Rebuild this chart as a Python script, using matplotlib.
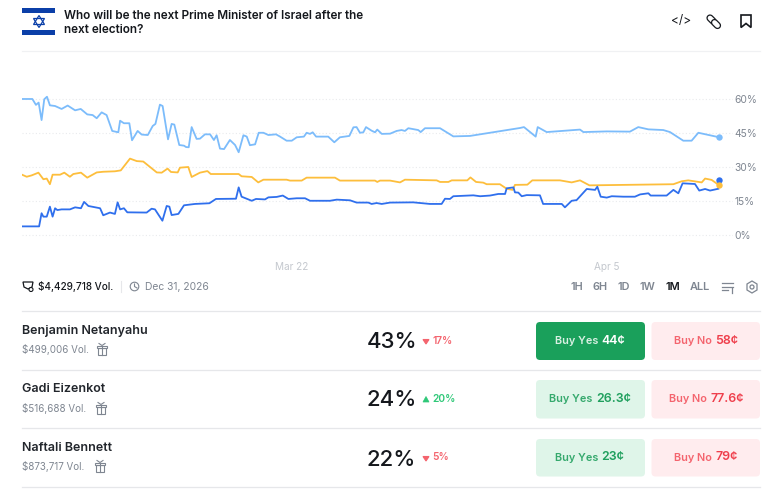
import matplotlib
matplotlib.use("Agg")
from matplotlib import pyplot as plt
from matplotlib.patches import FancyBboxPatch, Circle, Polygon, Rectangle

plt.rcParams["font.family"] = ["Inter", "DejaVu Sans"]

# days since Mar 10, price in percent
netanyahu_days = [0, .46, .62, .74, .87, .99, 1.11, 1.24, 1.47, 1.76, 2.03, 2.36, 2.61, 2.90, 3.14, 3.32, 3.54, 3.76,
                  4.01, 4.28, 4.36, 4.53, 4.77, 4.89, 5.14, 5.32, 5.59, 5.81, 5.93, 6.13, 6.25, 6.49, 6.65, 6.77, 6.99,
                  7.20, 7.29, 7.41, 7.54, 7.76, 7.91, 8.13, 8.36, 8.53, 8.65, 8.80, 8.98, 9.24, 9.47, 9.63, 9.84, 9.99,
                  10.13, 10.36, 10.52, 10.73, 10.95, 11.29, 11.47, 11.76, 11.99, 12.21, 12.53, 12.65, 12.80, 12.92,
                  13.07, 13.61, 13.88, 14.13, 14.55, 14.73, 14.87, 15.02, 15.17, 15.29, 15.54, 15.69, 15.79, 15.99,
                  16.36, 16.65, 16.87, 17.02, 17.17, 17.61, 17.72, 17.91, 18.58, 19.17, 19.91, 22.13, 22.31, 22.83,
                  22.92, 23.32, 24.80, 24.95, 25.99, 27.02, 27.39, 27.84, 28.50, 28.80, 29.39, 29.76, 30.06, 30.99]
netanyahu_pct = [60.0, 60.0, 57.4, 58.4, 50.7, 59.9, 61.0, 57.2, 56.9, 55.6, 57.1, 55.0, 55.6, 53.2, 52.9, 51.5, 54.1, 52.9,
                 45.9, 45.3, 50.4, 49.3, 49.3, 41.8, 45.9, 44.3, 44.1, 48.1, 49.0, 57.5, 56.9, 42.2, 49.0, 48.7, 39.7,
                 39.4, 38.8, 38.7, 47.6, 42.4, 42.5, 44.4, 44.4, 41.9, 44.0, 38.1, 37.9, 41.9, 39.7, 36.5, 44.0, 43.4,
                 39.6, 40.0, 45.1, 45.1, 44.1, 44.4, 43.4, 41.6, 41.6, 43.1, 43.4, 45.1, 44.6, 45.3,
                 43.4, 43.4, 40.9, 43.1, 43.7, 47.5, 47.6, 45.1, 45.3, 47.6, 46.0, 45.3, 46.5, 44.6,
                 44.7, 45.9, 46.3, 45.9, 47.1, 46.3, 45.4, 47.1, 47.1, 43.5, 43.7, 47.2, 47.6, 43.4,
                 47.6, 45.4, 46.5, 45.4, 45.7, 45.6, 47.6, 46.6, 46.3, 45.4, 41.6, 41.6, 45.1, 43.1]

eizenkot_days = [0, .76, .87, .95, 1.10, 1.24, 1.36, 1.47, 1.57, 1.76, 2.13, 2.36, 2.62, 2.76, 2.95, 3.47, 3.61, 3.91,
                 4.13, 4.25, 4.36, 4.53, 4.68, 5.54, 5.76, 5.91, 6.24, 6.43, 6.55, 6.65, 6.95, 7.20, 7.69, 8.33, 8.62,
                 9.51, 9.63, 9.76, 10.21, 10.40, 10.80, 10.95, 11.32, 11.59, 11.84, 12.21, 12.58, 12.80, 13.69, 13.99,
                 14.58, 14.87, 15.39, 15.54, 15.76, 15.99, 16.36, 17.39, 18.13, 18.65, 18.80, 19.02, 19.17, 20.06,
                 20.36, 20.80, 21.17, 21.47, 21.54, 21.84, 21.91, 22.06, 22.21, 22.43, 23.02, 23.16, 23.99, 24.13,
                 24.43, 24.65, 25.10, 25.47, 25.57, 25.72, 25.99, 26.21, 26.73, 27.24, 27.47, 27.84, 27.94, 28.65,
                 28.95, 29.17, 29.36, 29.91, 30.10, 30.36, 30.58, 30.95]
eizenkot_pct = [3.8, 3.8, 9.6, 8.1, 8.1, 12.5, 8.1, 11.8, 11.0, 11.3, 11.3, 12.2, 11.8, 14.6, 12.8, 11.8, 8.7, 9.9,
                9.3, 14.4, 11.3, 11.8, 10.0, 9.9, 11.6, 11.3, 6.3, 12.8, 12.5, 8.8, 9.3, 13.1, 13.7, 14.0, 15.9,
                16.0, 21.0, 16.9, 15.1, 15.9, 15.7, 16.6, 16.8, 17.4, 15.9, 16.2, 16.2, 15.1, 15.1, 15.6,
                15.3, 14.3, 14.3, 13.7, 14.1, 13.7, 14.3, 14.4, 13.7, 13.7, 16.0, 15.9, 17.1, 17.5,
                17.1, 17.4, 18.1, 18.1, 20.6, 21.0, 18.8, 18.7, 17.1, 17.6, 17.5, 13.7, 13.7, 12.2,
                15.1, 15.4, 20.3, 19.9, 21.3, 16.9, 16.5, 17.1, 16.9, 16.9, 17.9, 18.4, 17.4, 17.4,
                19.9, 18.4, 22.8, 22.5, 19.6, 20.3, 19.6, 20.4]

bennett_days = [0, .21, .43, .73, .95, 1.10, 1.24, 1.36, 1.69, 1.88, 2.13, 2.28, 2.62, 2.90, 3.32, 3.61, 4.13, 4.39,
                4.80, 5.10, 5.39, 5.99, 6.21, 6.47, 6.62, 6.92, 7.02, 7.39, 7.54, 7.91, 8.24, 8.39, 9.63, 9.76, 10.21,
                10.50, 10.73, 11.76, 11.91, 12.43, 12.65, 13.91, 14.13, 15.69, 15.79, 15.91, 16.36, 16.80, 17.02,
                18.43, 18.58, 18.95, 19.10, 19.79, 19.93, 20.18, 20.50, 20.65, 21.24, 21.54, 21.81, 21.91, 22.46,
                22.68, 23.91, 24.43, 24.80, 25.22, 28.95, 29.32, 29.61, 30.21, 30.36, 30.65, 30.99]
bennett_pct = [26.6, 25.7, 26.3, 27.5, 24.6, 24.9, 22.4, 26.6, 26.6, 27.5, 25.7, 26.9, 27.5, 25.3, 27.6, 27.9, 28.1, 28.5,
               33.7, 32.6, 32.4, 27.6, 27.5, 29.3, 27.8, 27.6, 29.7, 30.0, 25.6, 27.5, 28.2, 26.9, 26.9, 25.9, 25.6,
               23.2, 24.4, 24.4, 24.0, 24.0, 25.3, 25.3, 24.0, 24.0, 23.4, 24.0, 24.0, 23.2, 24.4,
               24.1, 23.4, 23.4, 24.1, 24.1, 25.4, 23.4, 23.1, 22.4, 22.4, 20.4, 19.9, 22.1, 22.2,
               24.1, 24.1, 23.2, 24.1, 21.9, 22.4, 23.7, 24.1, 23.2, 24.9, 24.3, 21.9]

# last traded point of each line
last_day = 30.99
last_pct = [43.1, 24.4, 21.9]
line_colors = ["#7cbcfb", "#2f6fed", "#fdbe3c"]

y_ticks = [0, 15, 30, 45, 60]
y_labels = ["0%", "15%", "30%", "45%", "60%"]
x_ticks = [12, 26]
x_labels = ["Mar 22", "Apr 5"]

names = ["Benjamin Netanyahu", "Gadi Eizenkot", "Naftali Bennett"]
vols = ["$499,006 Vol.", "$516,688 Vol.", "$873,717 Vol."]
chances = ["43%", "24%", "22%"]
changes = ["17%", "20%", "5%"]
change_up = [False, True, False]
yes_prices = ["44¢", "26.3¢", "23¢"]
no_prices = ["58¢", "77.6¢", "79¢"]
ranges = ["1H", "6H", "1D", "1W", "1M", "ALL"]

W, H = 779, 496
fig = plt.figure(figsize=(W / 100, H / 100), dpi=100, facecolor="white")

# page layer, in pixels
ui = fig.add_axes([0, 0, 1, 1])
ui.set_xlim(0, W)
ui.set_ylim(H, 0)
ui.axis("off")


def px(s):
    return s * 0.72


def label(x, y, s, size, color, weight="normal", ha="left"):
    ui.text(x, y, s, fontsize=px(size), color=color, fontweight=weight, ha=ha, va="center")


def box(x0, y0, x1, y1, color, r=4):
    ui.add_patch(FancyBboxPatch((x0 + r, y0 + r), x1 - x0 - 2 * r, y1 - y0 - 2 * r,
                                boxstyle=f"round,pad={r},rounding_size={r}", fc=color, ec="none"))


def gift(x, y, c="#7f8691"):
    ui.add_patch(Rectangle((x - 4, y - 2), 8, 7, fc="none", ec=c, lw=0.8))
    ui.add_patch(Rectangle((x - 5, y - 4), 10, 2, fc="white", ec=c, lw=0.8))
    ui.plot([x, x], [y - 4, y + 5], color=c, lw=0.8)
    ui.plot([x - 3, x, x + 3], [y - 6, y - 4, y - 6], color=c, lw=0.8)


# flag
ui.add_patch(Rectangle((22, 8), 33, 28, fc="white", ec="none"))
ui.add_patch(Rectangle((22, 8), 33, 5, fc="#0b3fa8", ec="none"))
ui.add_patch(Rectangle((22, 30), 33, 5, fc="#0b3fa8", ec="none"))
ui.add_patch(Polygon([(39, 15.5), (33.5, 24.5), (44.5, 24.5)], fill=False, ec="#0b3fa8", lw=0.9))
ui.add_patch(Polygon([(39, 27.5), (33.5, 18.5), (44.5, 18.5)], fill=False, ec="#0b3fa8", lw=0.9))

label(64, 16, "Who will be the next Prime Minister of Israel after the", 11.8, "#15181d", "semibold")
label(64, 30, "next election?", 11.8, "#15181d", "semibold")

# header icons
label(681, 21, "</>", 12, "#15181d", ha="center")
for xs, ys in (([710, 713], [18, 21]), ([714.5, 717.5], [22.5, 25.5])):
    ui.plot(xs, ys, color="#15181d", lw=5.2, solid_capstyle="round")
    ui.plot(xs, ys, color="white", lw=3.4, solid_capstyle="round")
ui.add_patch(Polygon([(741, 15), (751, 15), (751, 27.5), (746, 23.5), (741, 27.5)], closed=True,
                     fc="none", ec="#15181d", lw=1.2))

ui.plot([22, 760], [50.5, 50.5], color="#f0f1f3", lw=0.9)
for y in (311, 370, 428, 487):
    ui.plot([22, 760], [y, y], color="#e6e7ea", lw=0.9)

# volume strip
ui.add_patch(Polygon([(23, 282), (33, 282), (32, 287), (28, 289), (24, 287)], fc="none", ec="#15181d", lw=0.9))
ui.add_patch(Circle((31, 289.5), 2, fc="white", ec="#15181d", lw=0.8))
label(38.5, 286.5, "$4,429,718 Vol.", 10, "#15181d", "medium")
ui.plot([121.5, 121.5], [281, 292], color="#e6e7ea", lw=0.8)
ui.add_patch(Circle((134.5, 286.5), 4.3, fc="none", ec="#7f8691", lw=0.8))
ui.plot([134.5, 134.5, 137], [284, 286.5, 288], color="#7f8691", lw=0.8)
label(145, 286.5, "Dec 31, 2026", 10.3, "#7f8691")

# range picker
for x, s in zip([570.5, 593, 617.5, 640, 666, 690], ranges):
    label(x, 287, s, 11, "#15181d" if s == "1M" else "#7f8691", "semibold")
for y, x1 in ((283, 733), (286.5, 733), (290, 728)):
    ui.plot([722, x1], [y, y], color="#7f8691", lw=0.9)
ui.plot([732, 732], [288, 293], color="#7f8691", lw=0.9)
ui.add_patch(Circle((752, 287), 2, fc="none", ec="#7f8691", lw=0.9))
ui.add_patch(Polygon([(752, 281), (757, 284), (757, 290), (752, 293), (747, 290), (747, 284)],
                     fc="none", ec="#7f8691", lw=0.9))

# outcome rows
name_y = [331, 389.5, 448]
vol_y = [349.5, 408.5, 466.5]
gift_x = [102, 101, 100]
pct_y = [341, 399, 458]
btn_top = [322, 380, 439]
btn_bot = [360, 418.5, 476.5]
change_x = [433, 432, 432]
yes_split = [600, 594.5, 600]
no_split = [713.5, 709, 714]
for i in range(3):
    label(22.5, name_y[i], names[i], 12.5, "#22262c", "semibold")
    label(22.5, vol_y[i], vols[i], 9.8, "#7f8691")
    gift(gift_x[i], vol_y[i])
    label(367, pct_y[i] + 1.5, chances[i], 22.2, "#15181d", "medium")
    up = change_up[i]
    c = "#2fc878" if up else "#f4646e"
    if up:
        ui.add_patch(Polygon([(423, 402), (426, 396.5), (429, 402)], fc=c, ec=c, lw=0.5))
    else:
        ui.add_patch(Polygon([(423, pct_y[i] - 1.5), (429, pct_y[i] - 1.5), (426, pct_y[i] + 3)], fc=c, ec=c, lw=0.8))
    label(change_x[i], pct_y[i] - 0.5, changes[i], 10.2, c, "semibold")

    yes_bg = "#1aa05b" if i == 0 else "#dff5e9"
    yes_fg = "#ffffff" if i == 0 else "#1f9f5d"
    box(536, btn_top[i], 645, btn_bot[i], yes_bg)
    box(651.5, btn_top[i], 760, btn_bot[i], "#ffecee")
    mid = (btn_top[i] + btn_bot[i]) / 2
    label(yes_split[i] - 2, mid, "Buy Yes", 10.9, "#d9f0e3" if i == 0 else "#35a96d", "semibold", ha="right")
    label(yes_split[i] + 1.5, mid - 0.5, yes_prices[i], 12.4, yes_fg, "semibold")
    label(no_split[i] - 2, mid, "Buy No", 10.9, "#f4646e", "semibold", ha="right")
    label(no_split[i] + 1.5, mid - 0.5, no_prices[i], 12.4, "#ef3f4c", "semibold")

# price chart: 22.5 px per day, 34 px per 15 points
ax = fig.add_axes([22 / W, 1 - 250 / H, 711 / W, 160 / H])
ax.patch.set_alpha(0)
ax.set_xlim(0, 711 / 22.5)
ax.set_ylim(-15 / 2.267, 145 / 2.267)
for s in ax.spines.values():
    s.set_visible(False)
ax.set_yticks(y_ticks)
ax.set_yticklabels(y_labels, fontsize=px(10.2), color="#7f8691")
ax.yaxis.tick_right()
ax.set_xticks(x_ticks)
ax.set_xticklabels(x_labels, fontsize=px(10), color="#c4c8ce")
ax.tick_params(axis="both", length=0)
ax.tick_params(axis="x", pad=9)
ax.tick_params(axis="y", pad=1)
ax.grid(axis="y", color="#e9eaed", lw=0.8, linestyle=(0, (1, 2)))
ax.set_axisbelow(True)

ax.plot(netanyahu_days, netanyahu_pct, color=line_colors[0], lw=1.3, solid_joinstyle="round")
ax.plot(bennett_days, bennett_pct, color=line_colors[2], lw=1.3, solid_joinstyle="round")
ax.plot(eizenkot_days, eizenkot_pct, color=line_colors[1], lw=1.3, solid_joinstyle="round")
for v, c in zip(last_pct, line_colors):
    ax.plot([last_day], [v], "o", color=c, ms=4.6, mec="none", clip_on=False)

fig.savefig("out.png", dpi=100)
